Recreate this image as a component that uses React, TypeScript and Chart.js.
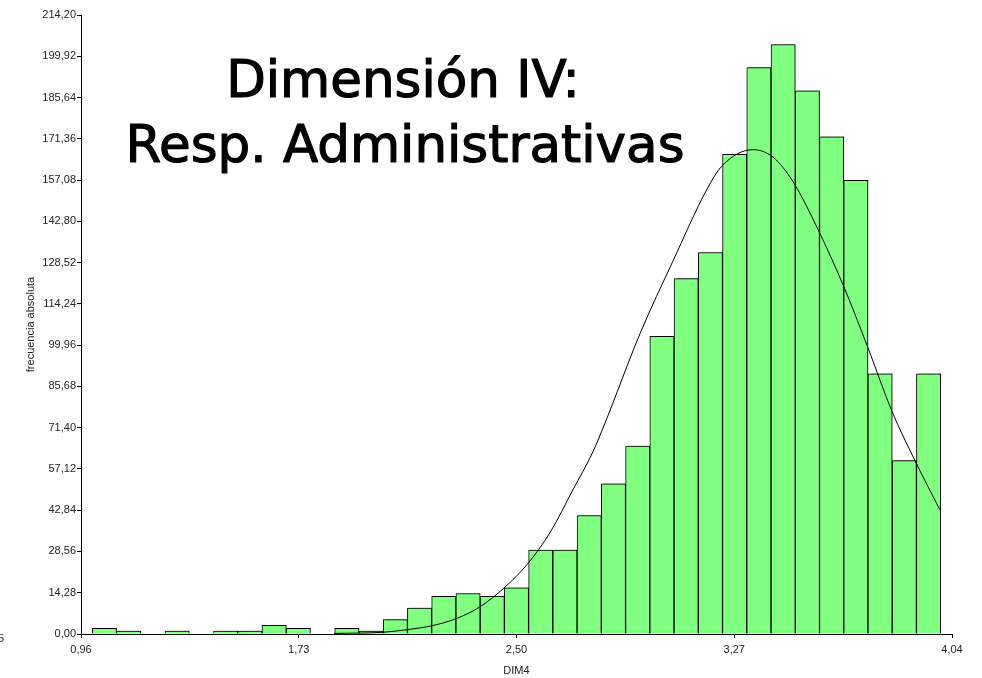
import React, { useEffect, useRef } from "react";
import { Chart, registerables } from "chart.js";
Chart.register(...registerables);

// Histogram bins (centres) and absolute frequencies
const binCenters = [
  1.0429, 1.1286, 1.2143, 1.3, 1.3857, 1.4714, 1.5571, 1.6429, 1.7286, 1.8143,
  1.9, 1.9857, 2.0714, 2.1571, 2.2429, 2.3286, 2.4143, 2.5, 2.5857, 2.6714,
  2.7571, 2.8429, 2.9286, 3.0143, 3.1, 3.1857, 3.2714, 3.3571, 3.4429, 3.5286,
  3.6143, 3.7, 3.7857, 3.8714, 3.9571,
];
const binCounts = [
  2, 1, 0, 1, 0, 1, 1, 3, 2, 0,
  2, 1, 5, 9, 13, 14, 13, 16, 29, 29,
  41, 52, 65, 103, 123, 132, 166, 196, 204, 188,
  172, 157, 90, 60, 90,
];

// Fitted normal curve
const curveX = [
  1.855, 2.028, 2.113, 2.198, 2.286, 2.371, 2.459, 2.537, 2.618, 2.7, 2.77, 2.813,
  2.937, 3.053, 3.174, 3.227, 3.336, 3.407, 3.478, 3.566, 3.654, 3.743, 3.828,
  3.909, 3.997,
];
const curveY = [
  0.2, 0.6, 1.5, 2.8, 5.3, 9.4, 16.2, 24, 35, 50, 63, 73,
  104, 129, 154, 162, 167.6, 165, 156.5, 140, 121, 99, 77,
  60, 43,
];

const xTickValues = [0.96, 1.73, 2.5, 3.27, 4.04];
const xTickLabels = ["0,96", "1,73", "2,50", "3,27", "4,04"];
const yTickValues = [
  0, 14.28, 28.56, 42.84, 57.12, 71.4, 85.68, 99.96, 114.24, 128.52, 142.8,
  157.08, 171.36, 185.64, 199.92, 214.2,
];
const yTickLabels = [
  "0,00", "14,28", "28,56", "42,84", "57,12", "71,40", "85,68", "99,96",
  "114,24", "128,52", "142,80", "157,08", "171,36", "185,64", "199,92", "214,20",
];

const titleLines = ["Dimensión IV:", "Resp. Administrativas"];
const xTitle = "DIM4";
const yTitle = "frecuencia absoluta";
const strayLabel = "5";

const TICK_FONT = { family: "'Liberation Sans', Arial, sans-serif", size: 11 };

export default function App() {
  const ref = useRef<HTMLCanvasElement | null>(null);

  useEffect(() => {
    const canvas = ref.current;
    if (!canvas) return;

    const shadowPlugin = {
      id: "barShadow",
      beforeDatasetDraw(chart: any, args: any) {
        if (args.meta.type !== "bar") return;
        const ctx = chart.ctx;
        ctx.save();
        ctx.shadowColor = "rgba(0,0,0,0.28)";
        ctx.shadowOffsetX = 2;
        ctx.shadowOffsetY = -1;
        ctx.shadowBlur = 0;
      },
      afterDatasetDraw(chart: any, args: any) {
        if (args.meta.type !== "bar") return;
        chart.ctx.restore();
      },
    };

    const overlayPlugin = {
      id: "overlayText",
      afterDraw(chart: any) {
        const ctx = chart.ctx;
        ctx.save();
        ctx.fillStyle = "#000";
        ctx.strokeStyle = "#000";
        ctx.lineWidth = 1.2;
        ctx.lineJoin = "round";
        ctx.textAlign = "center";
        ctx.textBaseline = "alphabetic";
        ctx.font = "51.5px 'DejaVu Sans', Verdana, sans-serif";
        ctx.fillText(titleLines[0], 403, 97);
        ctx.strokeText(titleLines[0], 403, 97);
        ctx.fillText(titleLines[1], 405, 162);
        ctx.strokeText(titleLines[1], 405, 162);
        ctx.font = "11px 'Liberation Sans', Arial, sans-serif";
        ctx.fillStyle = "#222";
        ctx.textAlign = "right";
        ctx.textBaseline = "middle";
        ctx.fillText(strayLabel, 4, 639);
        ctx.restore();
      },
    };

    const chart = new Chart(canvas, {
      type: "bar",
      data: {
        datasets: [
          {
            type: "line",
            data: curveX.map((x, i) => ({ x, y: curveY[i] })),
            borderColor: "#000",
            borderWidth: 1,
            pointRadius: 0,
            fill: false,
            cubicInterpolationMode: "monotone",
            order: 0,
          } as any,
          {
            type: "bar",
            data: binCenters.map((x, i) => ({ x, y: binCounts[i] })),
            backgroundColor: "rgb(128,255,128)",
            borderColor: "#000",
            borderWidth: 1,
            barPercentage: 1,
            categoryPercentage: 1,
            order: 1,
          } as any,
        ],
      },
      options: {
        responsive: false,
        animation: false,
        layout: { padding: { top: 15, right: 30, left: 0, bottom: 0 } },
        plugins: { legend: { display: false }, tooltip: { enabled: false }, title: { display: false } },
        scales: {
          x: {
            type: "linear",
            offset: false,
            min: 0.96,
            max: 4.04,
            afterBuildTicks: (s: any) => {
              s.ticks = xTickValues.map((v) => ({ value: v }));
            },
            afterFit: (s: any) => {
              s.height = 44;
            },
            ticks: {
              autoSkip: false,
              maxRotation: 0,
              padding: 5,
              color: "#222",
              font: TICK_FONT,
              callback: (v: any) => {
                const i = xTickValues.findIndex((t) => Math.abs(t - v) < 1e-6);
                return i >= 0 ? xTickLabels[i] : "";
              },
            },
            grid: { offset: false, drawOnChartArea: false, drawTicks: true, tickLength: 4, color: "#000" },
            border: { display: true, color: "#000", width: 1 },
            title: { display: true, text: xTitle, color: "#222", font: TICK_FONT, padding: { top: 5, bottom: 0 } },
          },
          y: {
            type: "linear",
            min: 0,
            max: 214.2,
            afterBuildTicks: (s: any) => {
              s.ticks = yTickValues.map((v) => ({ value: v }));
            },
            afterFit: (s: any) => {
              s.width = 81;
            },
            ticks: {
              autoSkip: false,
              padding: 1,
              color: "#222",
              font: TICK_FONT,
              callback: (v: any) => {
                const i = yTickValues.findIndex((t) => Math.abs(t - v) < 1e-6);
                return i >= 0 ? yTickLabels[i] : "";
              },
            },
            grid: { drawOnChartArea: false, drawTicks: true, tickLength: 4, color: "#000" },
            border: { display: true, color: "#000", width: 1 },
            title: { display: true, text: yTitle, color: "#222", font: TICK_FONT, padding: { top: 24, bottom: 0 } },
          },
        },
      } as any,
      plugins: [shadowPlugin, overlayPlugin],
    });

    return () => chart.destroy();
  }, []);

  return (
    <div style={{ position: "absolute", left: 0, top: 0, width: 982, height: 678, background: "#fff" }}>
      <canvas ref={ref} width={982} height={678} style={{ display: "block" }} />
    </div>
  );
}
